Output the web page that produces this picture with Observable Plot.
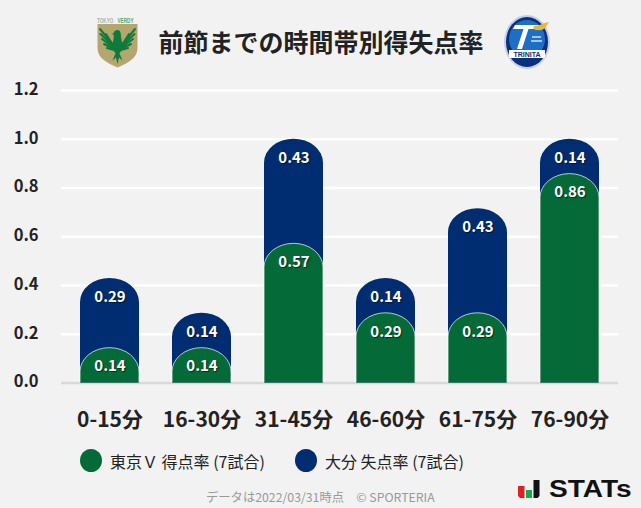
<!DOCTYPE html>
<html lang="ja">
<head>
<meta charset="utf-8">
<script src="https://cdn.jsdelivr.net/npm/d3@7"></script>
<script src="https://cdn.jsdelivr.net/npm/@observablehq/plot@0.6"></script>
<style>
html,body{margin:0;padding:0;background:#f2f2f2;overflow:hidden}
body{position:relative;width:641px;height:508px;font-family:"Noto Sans CJK JP","Noto Sans",sans-serif;color:#222}
#chart{position:absolute;left:0;top:0}
#chart svg{background:transparent;display:block}
#title{position:absolute;left:158.500px;top:22px;font-size:25px;font-weight:700;line-height:38px;white-space:nowrap;color:#222}
.lg{position:absolute;top:449px;height:24px;line-height:24px;font-size:16px;white-space:nowrap;color:#222}
.lg i{position:absolute;left:0;top:0;width:22px;height:23px;border-radius:50%}
.lg span{position:absolute;left:30px;top:0}
#foot{position:absolute;left:206px;top:488px;font-size:12.300px;line-height:18px;color:#999;white-space:nowrap}
.logo{position:absolute;overflow:visible}
.vals text{text-shadow:1px 1px 1px rgba(0,0,0,.55)}
</style>
</head>
<body>
<div id="chart"></div>
<div id="title"></div>
<svg class="logo" style="left:96px;top:15px" width="44" height="54" viewBox="0 0 44 54">
  <text transform="translate(1 7.500) scale(.62 1)" font-family="Liberation Sans" font-size="7.500" font-weight="700" fill="#a9b59a">TOKYO</text>
  <text transform="translate(21.500 7.500) scale(.62 1)" font-family="Liberation Sans" font-size="7.500" font-weight="700" fill="#5aa86a">VERDY</text>
  <path d="M1.500 9H41.500V33C41.500 43 32 48 21.500 52.500C11 48 1.500 43 1.500 33Z" fill="#b5a56f"/>
  <g stroke="#0f7a3c" stroke-width="2" stroke-linecap="round" fill="none">
    <path d="M18 31L4 14"/><path d="M18 32L4.500 19"/><path d="M18 33L6 24"/><path d="M18 34L8 29"/><path d="M18 35L11 33"/>
    <path d="M25 31L39 14"/><path d="M25 32L38.500 19"/><path d="M25 33L37 24"/><path d="M25 34L35 29"/><path d="M25 35L32 33"/>
    <path d="M10 19L17 30"/><path d="M33 19L26 30"/>
  </g>
  <path d="M21.500 15c-2 0-3.500 1.200-3.800 3l-2.200 1 2.200.6c.3 3.400-.7 7-1.200 10.400-.3 3 1.500 6.500 3 8.500l-3 7 3.500-3 1.500 6.500 1.500-6.500 3.500 3-3-7c1.500-2 3.300-5.500 3-8.500-.5-3.400-1.500-7-1.700-10.400 0-2.800-1.300-4.600-3.300-4.600z" fill="#0f7a3c"/>
</svg>
<svg class="logo" style="left:503px;top:14px" width="48" height="56" viewBox="0 0 48 56">
  <ellipse cx="24" cy="28" rx="23" ry="27" fill="#c3cfe8"/>
  <ellipse cx="24" cy="28" rx="21" ry="25" fill="#0a2f7d"/>
  <ellipse cx="24" cy="25" rx="18" ry="19" fill="#1c6fc4"/>
  <path d="M12 11H36L33 15H25.500L19 35H14L20.500 15H10Z" fill="#fff"/>
  <path d="M31 12C36 12 40 9 46 8L43 13C40 17 35 17 30 15Z" fill="#e8b83c"/>
  <g stroke="#fff" stroke-width="1.200"><path d="M29 23H38"/><path d="M28 27H39"/></g>
  <rect x="6" y="36" width="36" height="8" fill="#fff"/>
  <text x="24" y="42.500" text-anchor="middle" font-family="Liberation Sans" font-size="7" font-weight="700" fill="#0a2f7d">TRINITA</text>
</svg>
<svg class="logo" style="left:518px;top:477px" width="117" height="30" viewBox="0 0 117 30">
  <path d="M0 9H6.500V21H2L0 19Z" fill="#d9222a"/>
  <rect x="8" y="13" width="6" height="8" fill="#1aa64a"/>
  <path d="M15.500 3H21.500V19L19.500 21H15.500Z" fill="#111"/>
  <text font-family="Liberation Sans" font-weight="700" font-size="24" fill="#111" transform="translate(31 20) scale(1.17 1)">STATs</text>
</svg>
<div class="lg" id="lg1" style="left:80px"><i></i><span></span></div>
<div class="lg" id="lg2" style="left:295px"><i></i><span></span></div>
<div id="foot"></div>
<script>
const titleText = "前節までの時間帯別得失点率";
const periods = ["0-15分","16-30分","31-45分","46-60分","61-75分","76-90分"];
const scored = [0.143,0.143,0.571,0.286,0.286,0.857];
const conceded = [0.286,0.143,0.429,0.143,0.429,0.143];
const legendScored = "東京Ｖ 得点率 (7試合)";
const legendConceded = "大分 失点率 (7試合)";
const footer = "データは2022/03/31時点　© SPORTERIA";
const yTicks = [0,0.2,0.4,0.6,0.8,1.0,1.2];
const green = "#046a38";
const navy = "#002d72";

document.getElementById("title").textContent = titleText;
document.getElementById("foot").textContent = footer;
for (const [id,t,c] of [["lg1",legendScored,green],["lg2",legendConceded,navy]]) {
  const el = document.getElementById(id);
  el.querySelector("span").textContent = t;
  el.querySelector("i").style.background = c;
}

const f2 = d3.format(".2f");
const rows = periods.map((p,i)=>({p, s:scored[i], c:conceded[i], t:scored[i]+conceded[i], sl:f2(scored[i]), cl:f2(conceded[i])}));

// Turn each bar's rect into a path whose top is a half ellipse and whose bottom is square.
function topRound(ry, outline) {
  return function(index, scales, values, dims, context, next) {
    const g = next(index, scales, values, dims, context);
    const NS = "http://www.w3.org/2000/svg";
    for (const r of [...g.querySelectorAll("rect")]) {
      const x=+r.getAttribute("x"), y=+r.getAttribute("y"), w=+r.getAttribute("width"), h=+r.getAttribute("height");
      const d=`M${x},${y+h}V${y+ry}A${w/2},${ry} 0 0 1 ${x+w},${y+ry}V${y+h}`;
      const p=document.createElementNS(NS,"path");
      p.setAttribute("d",d+"Z");
      const f=r.getAttribute("fill"); if(f) p.setAttribute("fill",f);
      r.replaceWith(p);
      if(outline){
        const l=document.createElementNS(NS,"path");
        l.setAttribute("d",d);
        l.setAttribute("fill","none");
        l.setAttribute("stroke","#fff");
        l.setAttribute("stroke-opacity","0.7");
        l.setAttribute("stroke-width","1");
        p.after(l);
      }
    }
    return g;
  };
}

const chart = Plot.plot({
  width: 641, height: 508,
  marginLeft: 61, marginRight: 23, marginTop: 90, marginBottom: 125.5,
  style: {background:"transparent", fontFamily:'"Noto Sans CJK JP","Noto Sans",sans-serif', overflow:"visible"},
  x: {domain: periods, paddingInner: 0.36, paddingOuter: 0.207, label: null, axis: null},
  y: {domain: [0,1.2], label: null, axis: null},
  marks: [
    Plot.ruleY(yTicks.slice(1), {stroke:"#fff", strokeWidth:2.5}),
    Plot.ruleY([0], {stroke:"#d9d9d9", strokeWidth:2.5}),
    Plot.axisY({ticks:yTicks, tickFormat:".1f", tickSize:0, tickPadding:23, dy:-1, fontSize:16.5, fontWeight:700, fill:"#222", label:null}),
    Plot.axisX({tickSize:0, tickPadding:29, fontSize:21, fontWeight:700, fill:"#222", label:null}),
    Plot.barY(rows, {x:"p", y1:0, y2:"t", fill:navy, render:topRound(24,false)}),
    Plot.barY(rows, {x:"p", y1:0, y2:"s", fill:green, render:topRound(24,true)}),
    Plot.text(rows, {x:"p", y:"t", text:"cl", dy:18.5, fill:"#fff", fontSize:15, fontWeight:700, className:"vals"}),
    Plot.text(rows, {x:"p", y:"s", text:"sl", dy:18.5, fill:"#fff", fontSize:15, fontWeight:700, className:"vals"})
  ]
});
document.getElementById("chart").appendChild(chart);
</script>
</body>
</html>
